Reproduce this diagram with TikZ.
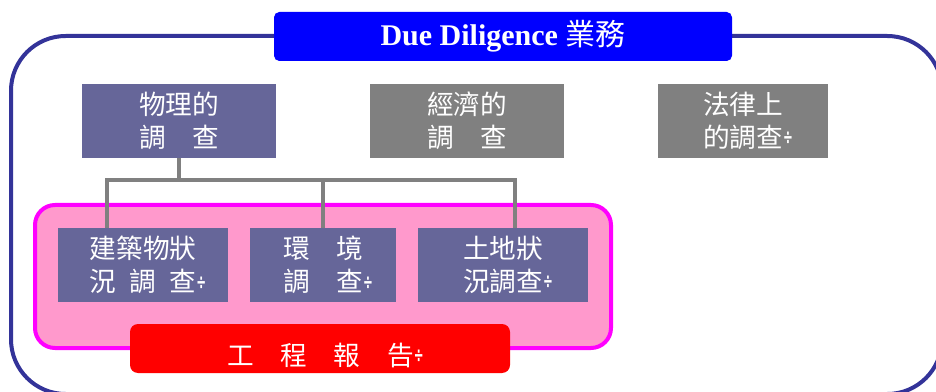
\documentclass[tikz,border=0pt]{standalone}
\usepackage{graphicx}
\usepackage{fontspec}
\setmainfont{Liberation Serif}
\newfontfamily\cjk{Noto Sans CJK TC}
\newfontfamily\dvs{DejaVu Sans}
\definecolor{navy}{HTML}{333399}
\definecolor{titleblue}{HTML}{0000FF}
\definecolor{purp}{HTML}{666699}
\definecolor{grayb}{HTML}{808080}
\definecolor{pinkf}{HTML}{FF99CC}
\definecolor{mag}{HTML}{FF00FF}
\definecolor{redb}{HTML}{FF0000}
\newcommand{\pmark}{\rlap{\raisebox{2pt}{\scalebox{0.55}[1]{\dvs\bfseries\fontsize{16}{16}\selectfont ÷}}}}
\begin{document}
\begin{tikzpicture}[x=0.75pt,y=-0.75pt,
  box/.style={inner sep=0pt, text=white, align=center,
    font=\cjk\fontsize{20}{24.75}\selectfont, minimum height=55.5pt},
  pbox/.style={box, fill=purp},
  gbox/.style={box, fill=grayb},
  conn/.style={draw=grayb, line width=2.4pt}]
\useasboundingbox (0,0) rectangle (936,392);
\clip (0,0) rectangle (936,392);
% outer frame
\draw[navy, line width=3pt, rounded corners=41pt] (11,36) rectangle (942,394);
% title
\node[fill=titleblue, rounded corners=4pt, minimum width=343.5pt, minimum height=36.75pt,
  inner sep=0pt, text=white] (title) at (503,36.5)
  {\fontsize{22.5}{24}\selectfont\bfseries Due Diligence {\cjk\mdseries 業務}};
% top boxes
\node[pbox, minimum width=145.5pt] (t1) at (179,121) {物理的\\調\hspace{1em}查};
\node[gbox, minimum width=145.5pt] (t2) at (467,121) {經濟的\\調\hspace{1em}查};
\node[gbox, minimum width=127.5pt] (t3) at (743,121) {法律上\\的調查\pmark};
% pink container
\node[fill=pinkf, draw=mag, line width=3pt, rounded corners=15pt, minimum width=432pt,
  minimum height=107.25pt, inner sep=0pt] (pink) at (323,276.5) {};
% lower boxes
\node[pbox, minimum width=127.5pt] (b1) at (143,265) {建築物狀\\況\hspace{0.5em}調\hspace{0.5em}查\pmark};
\node[pbox, minimum width=109.5pt] (b2) at (323,265) {環\hspace{1em}境\\調\hspace{1em}查\pmark};
\node[pbox, minimum width=127.5pt] (b3) at (503,265) {土地狀\\況調查\pmark};
% connectors
\coordinate (j) at (179,180);
\coordinate (b1top) at ([xshift=-27pt]b1.north);
\coordinate (b3top) at ([xshift=9pt]b3.north);
\draw[conn] (t1.south) -- (j);
\draw[conn] (b1top) |- (j) -| (b3top);
\draw[conn] (b2.north) -- (b2.north |- j);
% report
\node[fill=redb, rounded corners=6pt, minimum width=285pt, minimum height=36.75pt,
  inner sep=0pt] (rep) at (320,348.5) {};
\node[text=white, inner sep=0pt, font=\cjk\fontsize{20}{24}\selectfont] (reptext) at (320.5,355)
  {工\hspace{1em}程\hspace{1em}報\hspace{1em}告\pmark};
\end{tikzpicture}
\end{document}
